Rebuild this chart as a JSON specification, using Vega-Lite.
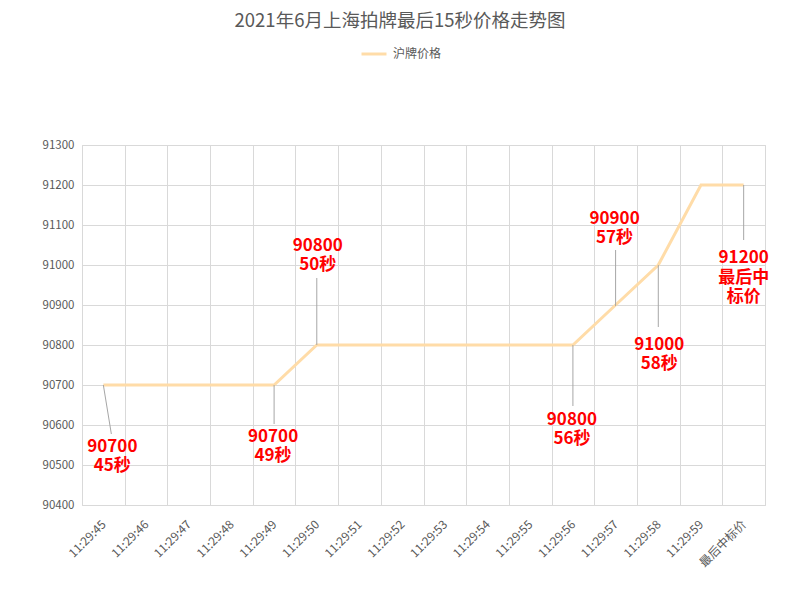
{
  "$schema": "https://vega.github.io/schema/vega-lite/v6.json",
  "width": 683,
  "height": 360,
  "autosize": {"type": "none"},
  "padding": {"left": 82, "top": 145, "right": 35, "bottom": 90},
  "background": "white",
  "title": {
    "text": "2021年6月上海拍牌最后15秒价格走势图",
    "font": "Noto Sans CJK SC",
    "fontSize": 18.5,
    "fontWeight": "normal",
    "color": "#595959",
    "anchor": "middle",
    "dx": -23.5,
    "offset": 10
  },
  "config": {
    "view": {"stroke": "#D9D9D9", "strokeWidth": 1},
    "font": "Noto Sans CJK SC"
  },
  "data": {
    "values": [
      {"t": "11:29:45", "price": 90700, "label": "90700\n45秒"},
      {"t": "11:29:46", "price": 90700},
      {"t": "11:29:47", "price": 90700},
      {"t": "11:29:48", "price": 90700},
      {"t": "11:29:49", "price": 90700, "label": "90700\n49秒"},
      {"t": "11:29:50", "price": 90800, "label": "90800\n50秒"},
      {"t": "11:29:51", "price": 90800},
      {"t": "11:29:52", "price": 90800},
      {"t": "11:29:53", "price": 90800},
      {"t": "11:29:54", "price": 90800},
      {"t": "11:29:55", "price": 90800},
      {"t": "11:29:56", "price": 90800, "label": "90800\n56秒"},
      {"t": "11:29:57", "price": 90900, "label": "90900\n57秒"},
      {"t": "11:29:58", "price": 91000, "label": "91000\n58秒"},
      {"t": "11:29:59", "price": 91200},
      {"t": "最后中标价", "price": 91200, "label": "91200\n最后中\n标价"}
    ]
  },
  "encoding": {
    "x": {
      "field": "t", "type": "nominal", "sort": null, "bandPosition": 0.5,
      "scale": {"type": "band", "paddingInner": 0, "paddingOuter": 0},
      "axis": {
        "title": null, "tickBand": "extent", "ticks": false, "domain": false,
        "grid": true, "gridColor": "#D9D9D9", "gridWidth": 1,
        "labelAngle": -45, "labelAlign": "right", "labelBaseline": "middle",
        "labelPadding": 17, "labelFontSize": 12, "labelColor": "#595959",
        "labelFont": "Noto Sans CJK SC"
      }
    },
    "y": {
      "field": "price", "type": "quantitative",
      "scale": {"domain": [90400, 91300], "nice": false, "zero": false},
      "axis": {
        "title": null, "values": [90400, 90500, 90600, 90700, 90800, 90900, 91000, 91100, 91200, 91300],
        "format": "d", "ticks": false, "domain": false,
        "grid": true, "gridColor": "#D9D9D9", "gridWidth": 1,
        "labelPadding": 8, "labelFontSize": 11.5, "labelColor": "#595959",
        "labelFont": "Noto Sans CJK SC"
      }
    }
  },
  "layer": [
    {
      "mark": {"type": "line", "strokeWidth": 3},
      "encoding": {
        "color": {
          "datum": "沪牌价格", "type": "nominal",
          "scale": {"range": ["#FFDCA8"]},
          "legend": {
            "title": null, "orient": "none", "legendX": 278, "legendY": -105,
            "symbolType": "stroke", "symbolSize": 625, "symbolStrokeWidth": 3,
            "labelFontSize": 12, "labelColor": "#595959", "labelOffset": 5,
            "labelFont": "Noto Sans CJK SC"
          }
        }
      }
    },
    {"transform": [{"filter": "datum.t == '11:29:45'"}], "mark": {"type": "rule", "color": "#A6A6A6", "strokeWidth": 1, "x2Offset": 8, "y2Offset": 49}, "encoding": {"x2": {"field": "t", "bandPosition": 0.5}, "y2": {"field": "price"}}},
    {"transform": [{"filter": "datum.t == '11:29:49'"}], "mark": {"type": "rule", "color": "#A6A6A6", "strokeWidth": 1, "y2Offset": 39}, "encoding": {"x2": {"field": "t", "bandPosition": 0.5}, "y2": {"field": "price"}}},
    {"transform": [{"filter": "datum.t == '11:29:50'"}], "mark": {"type": "rule", "color": "#A6A6A6", "strokeWidth": 1, "y2Offset": -67}, "encoding": {"x2": {"field": "t", "bandPosition": 0.5}, "y2": {"field": "price"}}},
    {"transform": [{"filter": "datum.t == '11:29:56'"}], "mark": {"type": "rule", "color": "#A6A6A6", "strokeWidth": 1, "y2Offset": 61}, "encoding": {"x2": {"field": "t", "bandPosition": 0.5}, "y2": {"field": "price"}}},
    {"transform": [{"filter": "datum.t == '11:29:57'"}], "mark": {"type": "rule", "color": "#A6A6A6", "strokeWidth": 1, "yOffset": 1, "y2Offset": -55}, "encoding": {"x2": {"field": "t", "bandPosition": 0.5}, "y2": {"field": "price"}}},
    {"transform": [{"filter": "datum.t == '11:29:58'"}], "mark": {"type": "rule", "color": "#A6A6A6", "strokeWidth": 1, "y2Offset": 62}, "encoding": {"x2": {"field": "t", "bandPosition": 0.5}, "y2": {"field": "price"}}},
    {"transform": [{"filter": "datum.t == '最后中标价'"}], "mark": {"type": "rule", "color": "#A6A6A6", "strokeWidth": 1, "y2Offset": 55}, "encoding": {"x2": {"field": "t", "bandPosition": 0.5}, "y2": {"field": "price"}}},
    {"transform": [{"filter": "datum.t == '11:29:45'"}], "mark": {"type": "text", "color": "#FF0000", "font": "Noto Sans CJK SC", "fontWeight": "bold", "fontSize": 17, "lineBreak": "\n", "lineHeight": 19.5, "baseline": "middle", "align": "center", "dx": 9, "dy": 61.5}, "encoding": {"text": {"field": "label"}}},
    {"transform": [{"filter": "datum.t == '11:29:49'"}], "mark": {"type": "text", "color": "#FF0000", "font": "Noto Sans CJK SC", "fontWeight": "bold", "fontSize": 17, "lineBreak": "\n", "lineHeight": 19.5, "baseline": "middle", "align": "center", "dx": -1, "dy": 51.5}, "encoding": {"text": {"field": "label"}}},
    {"transform": [{"filter": "datum.t == '11:29:50'"}], "mark": {"type": "text", "color": "#FF0000", "font": "Noto Sans CJK SC", "fontWeight": "bold", "fontSize": 17, "lineBreak": "\n", "lineHeight": 19.5, "baseline": "middle", "align": "center", "dx": 1, "dy": -99.5}, "encoding": {"text": {"field": "label"}}},
    {"transform": [{"filter": "datum.t == '11:29:56'"}], "mark": {"type": "text", "color": "#FF0000", "font": "Noto Sans CJK SC", "fontWeight": "bold", "fontSize": 17, "lineBreak": "\n", "lineHeight": 19.5, "baseline": "middle", "align": "center", "dx": -1, "dy": 74.5}, "encoding": {"text": {"field": "label"}}},
    {"transform": [{"filter": "datum.t == '11:29:57'"}], "mark": {"type": "text", "color": "#FF0000", "font": "Noto Sans CJK SC", "fontWeight": "bold", "fontSize": 17, "lineBreak": "\n", "lineHeight": 19.5, "baseline": "middle", "align": "center", "dx": -1, "dy": -86.5}, "encoding": {"text": {"field": "label"}}},
    {"transform": [{"filter": "datum.t == '11:29:58'"}], "mark": {"type": "text", "color": "#FF0000", "font": "Noto Sans CJK SC", "fontWeight": "bold", "fontSize": 17, "lineBreak": "\n", "lineHeight": 19.5, "baseline": "middle", "align": "center", "dx": 1, "dy": 79.5}, "encoding": {"text": {"field": "label"}}},
    {"transform": [{"filter": "datum.t == '最后中标价'"}], "mark": {"type": "text", "color": "#FF0000", "font": "Noto Sans CJK SC", "fontWeight": "bold", "fontSize": 17, "lineBreak": "\n", "lineHeight": 19.5, "baseline": "middle", "align": "center", "dx": 0, "dy": 73}, "encoding": {"text": {"field": "label"}}}
  ]
}
